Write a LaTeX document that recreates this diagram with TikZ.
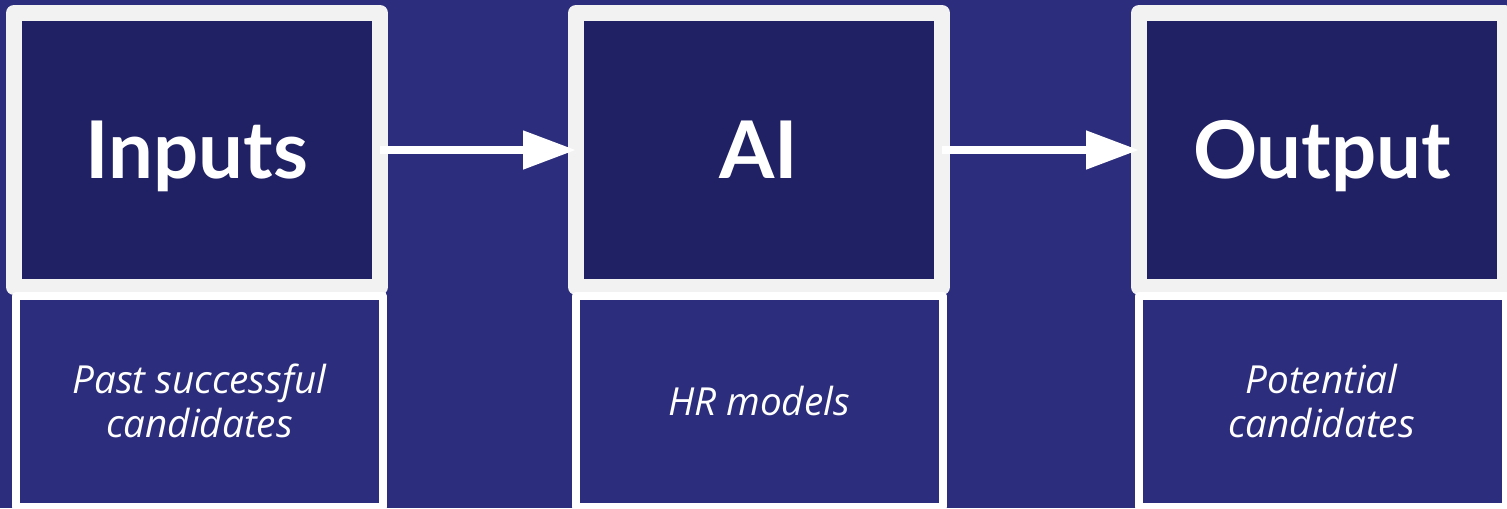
\documentclass[tikz,border=0pt]{standalone}
\usepackage{fontspec}
\setmainfont{Lato}
\newfontfamily\headfont{Lato}
\newfontfamily\subfont{Open Sans}
\usetikzlibrary{arrows.meta}
\definecolor{bgc}{HTML}{2C2D7C}
\definecolor{topc}{HTML}{202064}
\definecolor{rimc}{HTML}{F2F2F2}
\newlength\pxu \setlength\pxu{0.02cm}
\begin{document}
\begin{tikzpicture}[x=0.02cm,y=-0.02cm,
  topbox/.style={draw=rimc, fill=topc, line width=16\pxu, line join=round,
    minimum width=366\pxu, minimum height=274\pxu, outer sep=0pt, inner sep=0pt,
    text=white, font=\headfont\bfseries\fontsize{45.3}{50}\selectfont,
    text height=32.4pt, text depth=0pt},
  subbox/.style={draw=white, fill=bgc, line width=8\pxu, line join=round,
    minimum width=367\pxu, minimum height=211\pxu, outer sep=0pt, inner sep=0pt},
  subtxt/.style={text=white, font=\subfont\itshape\fontsize{22}{25.04}\selectfont,
    align=center, anchor=base, inner sep=0pt},
  flow/.style={draw=white, line width=8\pxu,
    -{Triangle[length=1.06cm,width=0.74cm]}}]
\fill[bgc] (0,0) rectangle (1507,508);
\useasboundingbox (0,0) rectangle (1507,508);
% top boxes
\node[topbox] (inp) at (197,150) {Inputs};
\node[topbox] (ai) at (759,150) {AI};
\node[topbox] (out) at (1322,150) {Output};
% bottom boxes
\node[subbox] (inpd) at (199.5,401.5) {};
\node[subbox] (aid) at (759,401.5) {};
\node[subbox] (outd) at (1322,401.5) {};
% bottom texts (base anchor = baseline of the last line)
\node[subtxt] (inpt) at (199.5,437) {Past successful\\candidates};
\node[subtxt] (ait) at (759,415) {HR models};
\node[subtxt] (outt) at (1321.5,437) {Potential\\candidates};
% connectors
\draw[flow] (inp.east) -- (ai.west);
\draw[flow] (ai.east) -- (out.west);
\end{tikzpicture}
\end{document}
